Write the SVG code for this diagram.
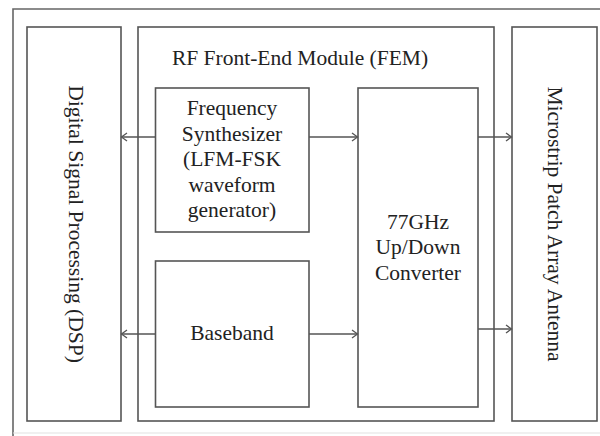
<svg xmlns="http://www.w3.org/2000/svg" width="600" height="436" viewBox="0 0 600 436">
<defs>
<style>
.box{fill:#fff;stroke:#555;stroke-width:1.6}
.t{font-size:21.5px;fill:#222;text-anchor:middle}
.c{stroke:#555;stroke-width:1.4;fill:none}
</style>
<marker id="ah" markerWidth="8" markerHeight="10" refX="6.5" refY="5" orient="auto" markerUnits="userSpaceOnUse">
<path d="M1,1 L6.5,5 L1,9" fill="none" stroke="#555" stroke-width="1.3"/>
</marker>
</defs>
<rect width="600" height="436" fill="#fff"/>
<g font-family="'Liberation Serif', 'DejaVu Serif', serif">
<g id="frame">
<path d="M13,436 L13,9 L600,9" fill="none" stroke="#666" stroke-width="1.6"/>
<path d="M13,433 L600,433" fill="none" stroke="#e2e2e2" stroke-width="1.2"/>
</g>
<g id="dsp">
<rect class="box" x="27" y="27" width="94" height="394"/>
<text class="t" transform="translate(69,224) rotate(90)">Digital Signal Processing (DSP)</text>
</g>
<g id="fem">
<rect class="box" x="138" y="27" width="356" height="394"/>
<text class="t" x="300" y="65">RF Front-End Module (FEM)</text>
</g>
<g id="antenna">
<rect class="box" x="512" y="27" width="85" height="394"/>
<text class="t" transform="translate(548,224) rotate(90)">Microstrip Patch Array Antenna</text>
</g>
<g id="synth">
<rect class="box" x="155.5" y="88" width="153.5" height="144"/>
<text class="t" x="232" y="115">Frequency</text>
<text class="t" x="232" y="140.5">Synthesizer</text>
<text class="t" x="232" y="166">(LFM-FSK</text>
<text class="t" x="232" y="191.5">waveform</text>
<text class="t" x="232" y="217">generator)</text>
</g>
<g id="baseband">
<rect class="box" x="155.5" y="261" width="153.5" height="146"/>
<text class="t" x="232" y="340">Baseband</text>
</g>
<g id="converter">
<rect class="box" x="358" y="88" width="120" height="319"/>
<text class="t" x="418" y="228.5">77GHz</text>
<text class="t" x="418" y="254">Up/Down</text>
<text class="t" x="418" y="279.5">Converter</text>
</g>
<g id="connectors">
<line class="c" x1="155.5" y1="137" x2="121.5" y2="137" marker-end="url(#ah)"/>
<line class="c" x1="309" y1="137" x2="357.5" y2="137" marker-end="url(#ah)"/>
<line class="c" x1="478" y1="137" x2="511.5" y2="137" marker-end="url(#ah)"/>
<line class="c" x1="155.5" y1="334" x2="121.5" y2="334" marker-end="url(#ah)"/>
<line class="c" x1="309" y1="334" x2="357.5" y2="334" marker-end="url(#ah)"/>
<line class="c" x1="478" y1="329" x2="511.5" y2="329" marker-end="url(#ah)"/>
</g>
</g>
</svg>
